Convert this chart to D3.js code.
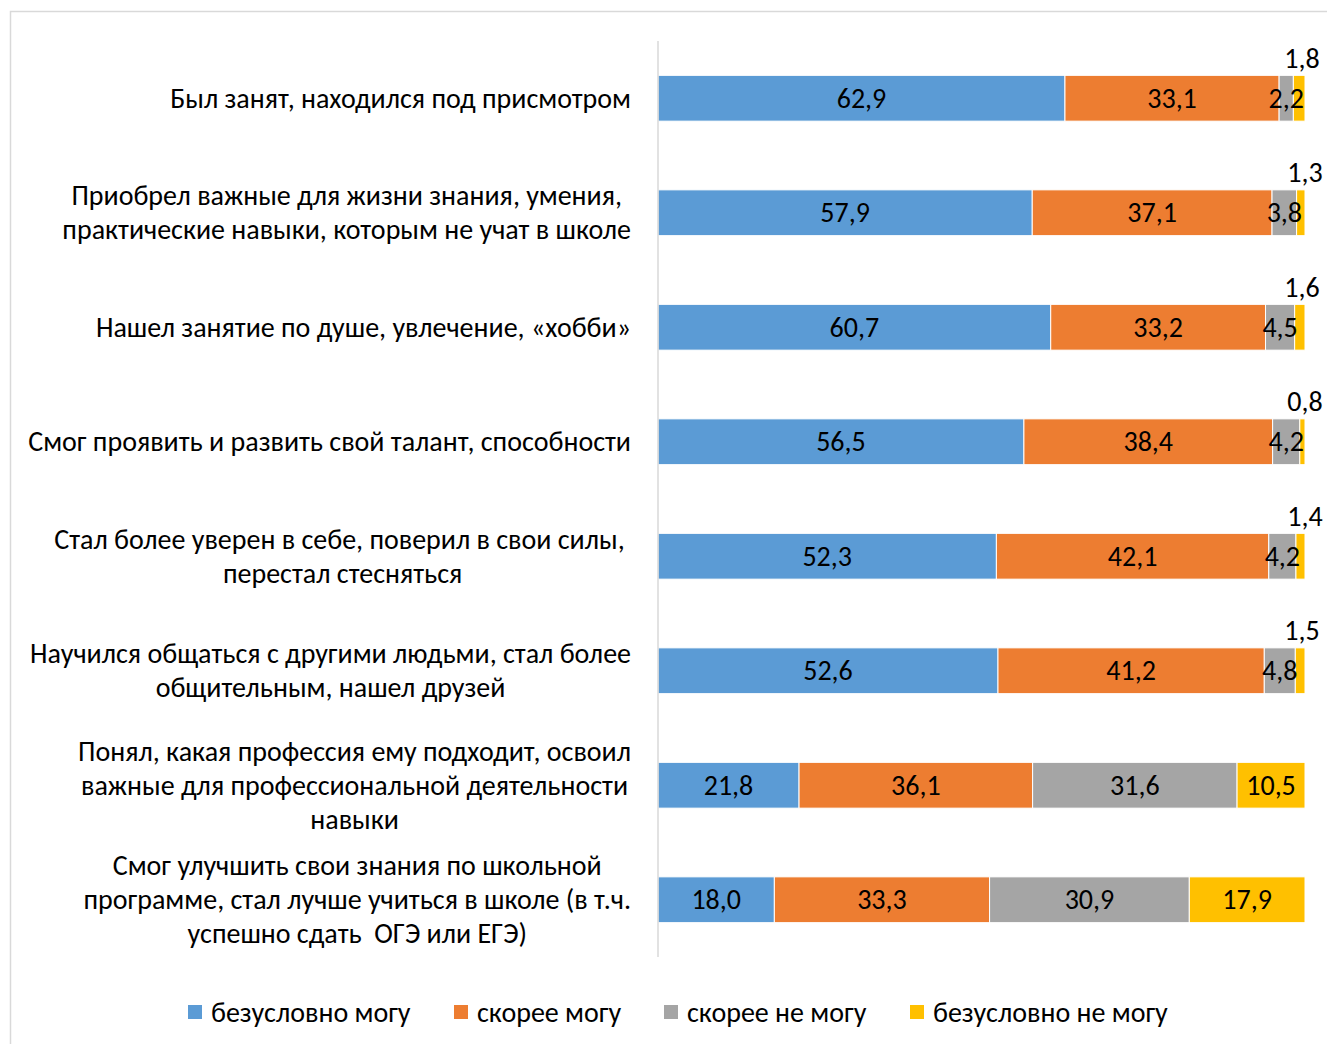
<!DOCTYPE html>
<html><head><meta charset="utf-8">
<script src="https://cdn.jsdelivr.net/npm/d3@7"></script>
<style>body{margin:0;background:#fff;} svg{display:block;} text{white-space:pre;}</style>
</head><body>
<script>
const categories = [
  ["Был занят, находился под присмотром"],
  ["Приобрел важные для жизни знания, умения,", "практические навыки, которым не учат в школе"],
  ["Нашел занятие по душе, увлечение, «хобби»"],
  ["Смог проявить и развить свой талант, способности"],
  ["Стал более уверен в себе, поверил в свои силы, ", "перестал стесняться"],
  ["Научился общаться с другими людьми, стал более", "общительным, нашел друзей"],
  ["Понял, какая профессия ему подходит, освоил", "важные для профессиональной деятельности", "навыки"],
  ["Смог улучшить свои знания по школьной", "программе, стал лучше учиться в школе (в т.ч.", "успешно сдать  ОГЭ или ЕГЭ)"]
];
const seriesNames = ["безусловно могу", "скорее могу", "скорее не могу", "безусловно не могу"];
const s1 = [62.9, 57.9, 60.7, 56.5, 52.3, 52.6, 21.8, 18.0];
const s2 = [33.1, 37.1, 33.2, 38.4, 42.1, 41.2, 36.1, 33.3];
const s3 = [2.2, 3.8, 4.5, 4.2, 4.2, 4.8, 31.6, 30.9];
const s4 = [1.8, 1.3, 1.6, 0.8, 1.4, 1.5, 10.5, 17.9];
const colors = ["#5B9BD5", "#ED7D31", "#A5A5A5", "#FFC000"];

const W = 1327, H = 1044;
const FONT = "Calibri, Carlito, Lato, 'Open Sans', sans-serif";
const svg = d3.select("body").append("svg").attr("width", W).attr("height", H)
  .style("font-family", FONT);

svg.append("rect").attr("x", 10.5).attr("y", 11.5).attr("width", 1400).attr("height", 1100)
  .attr("fill", "#fff").attr("stroke", "#d9d9d9").attr("stroke-width", 1.5);

// font size calibration
const probe = svg.append("text").attr("font-size", 100).text("Смог проявить и развить свой талант, способности");
const pw = probe.node().getComputedTextLength();
probe.remove();
const FS = 100 * 603 / pw;

const rows = categories.map((c, i) => ({i, a: s1[i], b: s2[i], c: s3[i], d: s4[i]}));
const keys = ["a", "b", "c", "d"];
const stack = d3.stack().keys(keys).offset(d3.stackOffsetExpand);
const stacked = stack(rows);

const x = d3.scaleLinear().domain([0, 1]).range([658, 1305]);
const y = d3.scaleBand().domain(d3.range(categories.length)).range([41, 957]).paddingInner(0.6).paddingOuter(0.3);

const vals = [s1, s2, s3, s4];

stacked.forEach((layer, k) => {
  const g = svg.append("g");
  g.selectAll("rect").data(layer).join("rect")
    .attr("x", d => x(d[0]))
    .attr("y", (d, i) => y(i))
    .attr("width", d => x(d[1]) - x(d[0]))
    .attr("height", y.bandwidth())
    .attr("fill", colors[k])
    .attr("stroke", "#fff").attr("stroke-width", 1);
});

stacked.forEach((layer, k) => {
  const g = svg.append("g").attr("font-size", FS).attr("fill", "#000");
  g.selectAll("text").data(layer).join("text")
    .attr("x", (d, i) => {
      const v = vals[k][i];
      if (k === 3 && v < 5) return x(d[1]) - 3 + (v < 1.5 ? 3 : 0);
      return (x(d[0]) + x(d[1])) / 2;
    })
    .attr("y", (d, i) => {
      const v = vals[k][i];
      if (k === 3 && v < 5) return y(i) - 17;
      return y(i) + y.bandwidth() / 2;
    })
    .attr("text-anchor", "middle")
    .attr("dominant-baseline", "central")
    .text((d, i) => d3.format(".1f")(vals[k][i]).replace(".", ","));
});

// axis line
svg.append("line").attr("x1", 658).attr("x2", 658).attr("y1", 41).attr("y2", 957)
  .attr("stroke", "#d9d9d9").attr("stroke-width", 1.5);

// category labels
const LH = 34;
categories.forEach((lines, i) => {
  const g = svg.append("g").attr("font-size", FS);
  const cy = y(i) + y.bandwidth() / 2;
  const t = g.append("text").attr("text-anchor", "middle").attr("fill", "#000");
  lines.forEach((ln, j) => {
    t.append("tspan").attr("y", cy + (j - (lines.length - 1) / 2) * LH).attr("dominant-baseline", "central").text(ln);
  });
  let maxW = 0;
  t.selectAll("tspan").each(function() { maxW = Math.max(maxW, this.getComputedTextLength()); });
  const cx = 631 - maxW / 2;
  t.selectAll("tspan").attr("x", cx);
});

// legend
const legX = [188, 454, 664, 910];
const lg = svg.append("g").attr("font-size", FS);
seriesNames.forEach((n, k) => {
  lg.append("rect").attr("x", legX[k]).attr("y", 1005).attr("width", 14).attr("height", 14).attr("fill", colors[k]);
  lg.append("text").attr("x", legX[k] + 23).attr("y", 1012).attr("dominant-baseline", "central").text(n);
});
</script>
</body></html>
